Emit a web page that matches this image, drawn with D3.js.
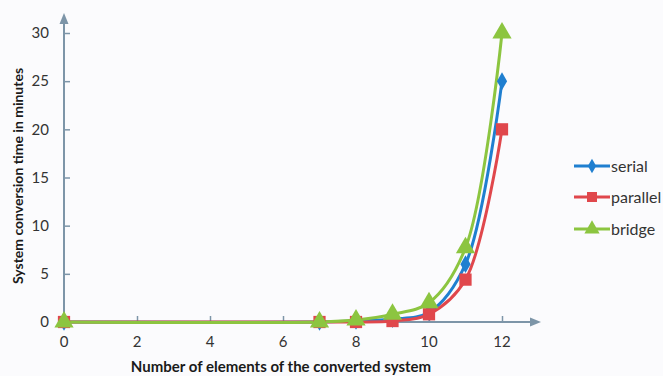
<!DOCTYPE html>
<html>
<head>
<meta charset="utf-8">
<script src="https://cdn.jsdelivr.net/npm/d3@7"></script>
<style>
  html, body { margin: 0; padding: 0; background: #fbfbfd; }
  svg { display: block; font-family: Lato, "Open Sans", sans-serif; }
</style>
</head>
<body>
<svg id="chart" width="663" height="376"></svg>
<script>
const xValues = [0, 7, 8, 9, 10, 11, 12];
const serial = [0, 0, 0.1, 0.3, 1.0, 6.0, 25];
const parallel = [0, 0, 0, 0.1, 0.8, 4.4, 20];
const bridge = [0, 0, 0.2, 0.8, 2.0, 7.7, 30];
const seriesNames = ["serial", "parallel", "bridge"];
const seriesColors = ["#1f7fd0", "#e0474c", "#8cc540"];
const seriesShapes = [d3.symbolDiamond, d3.symbolSquare, d3.symbolTriangle];
const xTicks = [0, 2, 4, 6, 8, 10, 12];
const yTicks = [0, 5, 10, 15, 20, 25, 30];

const svg = d3.select("#chart");
const x = d3.scaleLinear().domain([0, 12]).range([64, 502]);
const y = d3.scaleLinear().domain([0, 30]).range([322, 33]);
const axisColor = "#7d95a8";
const textColor = "#333333";

// Y axis
const yAxis = svg.append("g").attr("transform", `translate(${x(0)},0)`)
  .call(d3.axisRight(y).tickValues(yTicks).tickSize(6).tickFormat(""));
yAxis.select(".domain").remove();
yAxis.selectAll(".tick line").attr("stroke", axisColor).attr("stroke-width", 1.5);
svg.append("line").attr("x1", x(0)).attr("x2", x(0)).attr("y1", y(0)).attr("y2", 22)
  .attr("stroke", axisColor).attr("stroke-width", 2);
svg.append("path").attr("d", `M${x(0)-4.5},24 L${x(0)},13 L${x(0)+4.5},24 Z`).attr("fill", axisColor);
svg.append("g").selectAll("text").data(yTicks).join("text")
  .attr("x", 49).attr("y", d => y(d)).attr("dy", "0.35em")
  .attr("text-anchor", "end").attr("font-size", 15).attr("fill", textColor)
  .text(d => d);

// X axis
const xAxis = svg.append("g").attr("transform", `translate(0,${y(0)})`)
  .call(d3.axisTop(x).tickValues(xTicks).tickSize(6).tickFormat(""));
xAxis.select(".domain").remove();
xAxis.selectAll(".tick line").attr("stroke", axisColor).attr("stroke-width", 1.5);
svg.append("line").attr("x1", x(0)).attr("x2", 532).attr("y1", y(0)).attr("y2", y(0))
  .attr("stroke", axisColor).attr("stroke-width", 2);
svg.append("path").attr("d", `M530,${y(0)-4.5} L541,${y(0)} L530,${y(0)+4.5} Z`).attr("fill", axisColor);
svg.append("g").selectAll("text").data(xTicks).join("text")
  .attr("x", d => x(d)).attr("y", 347)
  .attr("text-anchor", "middle").attr("font-size", 15).attr("fill", textColor)
  .text(d => d);

// Axis titles
svg.append("text").attr("x", 281).attr("y", 372).attr("text-anchor", "middle")
  .attr("font-size", 15).attr("font-weight", "bold").attr("fill", "#1a1a1a")
  .text("Number of elements of the converted system");
svg.append("text").attr("transform", "translate(23,176) rotate(-90)").attr("text-anchor", "middle")
  .attr("font-size", 14).attr("font-weight", "bold").attr("fill", "#1a1a1a")
  .text("System conversion time in minutes");

// Series
const allSeries = [serial, parallel, bridge];
const line = d3.line().x((d, i) => x(xValues[i])).y(d => y(d)).curve(d3.curveCatmullRom.alpha(0.5));
const symSizes = [90, 150, 160];
allSeries.forEach((vals, s) => {
  svg.append("path").datum(vals).attr("d", line)
    .attr("fill", "none").attr("stroke", seriesColors[s]).attr("stroke-width", 3);
});
allSeries.forEach((vals, s) => {
  svg.append("g").selectAll("path").data(vals).join("path")
    .attr("transform", (d, i) => `translate(${x(xValues[i])},${y(d)})`)
    .attr("d", d3.symbol().type(seriesShapes[s]).size(symSizes[s]))
    .attr("fill", seriesColors[s]);
});

// Legend
const legendY = [166, 197, 229];
const legendSizes = [60, 100, 100];
seriesNames.forEach((name, s) => {
  const g = svg.append("g").attr("transform", `translate(574,${legendY[s]})`);
  g.append("line").attr("x1", 0).attr("x2", 36).attr("stroke", seriesColors[s]).attr("stroke-width", 3);
  g.append("path").attr("transform", "translate(18,0)")
    .attr("d", d3.symbol().type(seriesShapes[s]).size(legendSizes[s])).attr("fill", seriesColors[s]);
  g.append("text").attr("x", 37).attr("dy", "0.35em").attr("font-size", 16).attr("fill", textColor)
    .text(name);
});
</script>
</body>
</html>
